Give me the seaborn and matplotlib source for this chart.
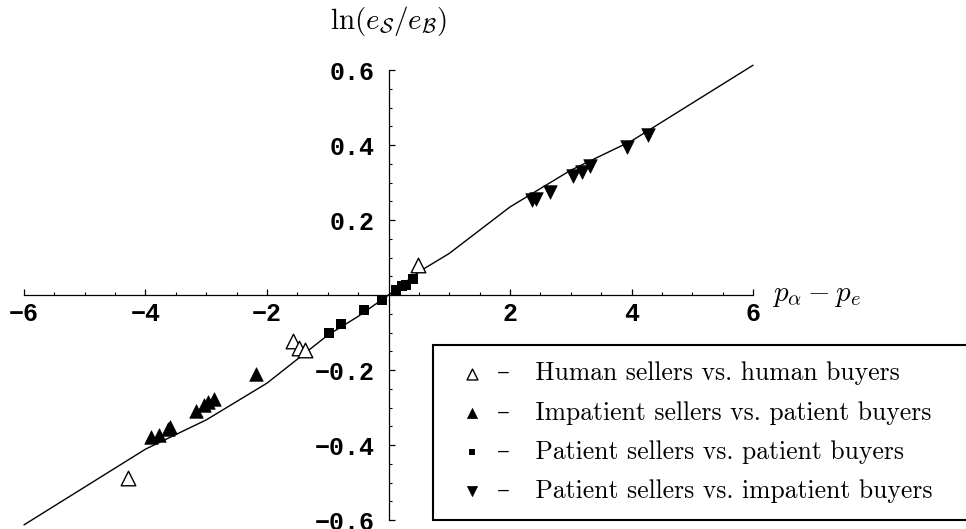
import numpy as np
import matplotlib
matplotlib.use('Agg')
import matplotlib.pyplot as plt
from matplotlib.ticker import FixedLocator
import seaborn as sns
import warnings

warnings.filterwarnings('ignore')
sns.set_style('ticks', {'axes.edgecolor': 'black', 'text.color': 'black',
                        'xtick.color': 'black', 'ytick.color': 'black'})
plt.rcParams['mathtext.fontset'] = 'cm'


# ── Data ─────────────────────────────────────────────────────
curve_x = [-6, -5, -4, -3, -2, -1, -0.5, 0, 0.5, 1, 2, 3, 4, 5, 6]
curve_y = [-0.613, -0.512, -0.411, -0.333, -0.235, -0.107, -0.057, 0.0,
           0.062, 0.111, 0.235, 0.333, 0.411, 0.512, 0.613]

human_x = [0.48, -1.58, -1.47, -1.37, -4.29]
human_y = [0.080, -0.122, -0.142, -0.147, -0.489]

impatient_sell_x = [-2.18, -2.87, -2.97, -3.03, -3.17, -3.59, -3.63, -3.78, -3.91]
impatient_sell_y = [-0.211, -0.278, -0.286, -0.293, -0.309, -0.352, -0.358, -0.373, -0.378]

patient_x = [-0.98, -0.79, -0.41, -0.10, 0.12, 0.22, 0.29, 0.41]
patient_y = [-0.102, -0.077, -0.041, -0.012, 0.013, 0.023, 0.028, 0.042]

impatient_buy_x = [2.37, 2.43, 2.66, 3.04, 3.19, 3.32, 3.92, 4.27]
impatient_buy_y = [0.253, 0.255, 0.276, 0.317, 0.329, 0.344, 0.394, 0.427]

labels = ['Human sellers vs. human buyers',
          'Impatient sellers vs. patient buyers',
          'Patient sellers vs. patient buyers',
          'Patient sellers vs. impatient buyers']

x_ticks = [-6, -4, -2, 2, 4, 6]
x_tick_labels = ['\u22126', '\u22124', '\u22122', '2', '4', '6']
y_ticks = [-0.6, -0.4, -0.2, 0.2, 0.4, 0.6]
y_tick_labels = ['\u22120.6', '\u22120.4', '\u22120.2', '0.2', '0.4', '0.6']


# ── Figure ───────────────────────────────────────────────────
fig = plt.figure(figsize=(9.66, 5.29), dpi=100)
ax = fig.add_axes([0, 0, 1, 1])
ax.set_xlim(-6.395, 9.506)
ax.set_ylim(-0.624, 0.787)

sns.lineplot(x=curve_x, y=curve_y, color='black', lw=1.0, sort=False, ax=ax)

groups = [
    (human_x, human_y, '^', 'white', 110, 1.0),
    (impatient_sell_x, impatient_sell_y, '^', 'black', 95, 0.5),
    (patient_x, patient_y, 's', 'black', 45, 0.0),
    (impatient_buy_x, impatient_buy_y, 'v', 'black', 95, 0.5),
]
for (gx, gy, mk, fc, size, lw), lab in zip(groups, labels):
    sns.scatterplot(x=gx, y=gy, marker=mk, s=size, color=fc, edgecolor='black',
                    linewidth=lw, label='\u2013   ' + lab, ax=ax, zorder=3)

# axes through the origin
for side in ['top', 'right']:
    ax.spines[side].set_visible(False)
ax.spines['left'].set_position(('data', 0))
ax.spines['bottom'].set_position(('data', 0))
ax.spines['left'].set_bounds(-0.6, 0.6)
ax.spines['bottom'].set_bounds(-6, 6)
ax.spines['left'].set_linewidth(0.9)
ax.spines['bottom'].set_linewidth(0.9)

ax.set_xticks(x_ticks)
ax.set_xticklabels(x_tick_labels)
ax.set_yticks(y_ticks)
ax.set_yticklabels(y_tick_labels)
ax.xaxis.set_minor_locator(FixedLocator(np.arange(-6, 6.01, 0.5)))
ax.yaxis.set_minor_locator(FixedLocator(np.arange(-0.6, 0.601, 0.05)))
ax.tick_params(which='major', direction='in', length=4.5, width=0.9,
               bottom=True, left=True)
ax.tick_params(which='minor', direction='in', length=2.5, width=0.8,
               bottom=True, left=True)
ax.tick_params(axis='x', which='major', pad=5)
ax.tick_params(axis='y', which='major', pad=10)
for t in ax.get_xticklabels() + ax.get_yticklabels():
    t.set_fontfamily(['Liberation Mono', 'DejaVu Sans Mono'])
    t.set_fontweight('bold')
    t.set_fontsize(18)

ax.text(0, 0.73, r'$\ln(e_{\mathcal{S}}/e_{\mathcal{B}})$',
        ha='center', va='center', fontsize=21)
ax.text(6.32, 0.0, r'$p_\alpha - p_e$', ha='left', va='center', fontsize=21)

leg_top = 1 - 345 / 529
leg = ax.legend(loc='upper left', bbox_to_anchor=(433 / 966, leg_top - 0.3, 0.6, 0.3),
                mode='expand', borderaxespad=0, frameon=True, fancybox=False,
                framealpha=1, edgecolor='black',
                prop={'family': ['cmr10', 'DejaVu Serif'], 'size': 18.5},
                markerscale=0.75, handlelength=1.74, handletextpad=0.1,
                labelspacing=0.6, borderpad=0.65)
leg.get_frame().set_linewidth(1.5)

fig.savefig('out.png', dpi=100)
plt.close()
